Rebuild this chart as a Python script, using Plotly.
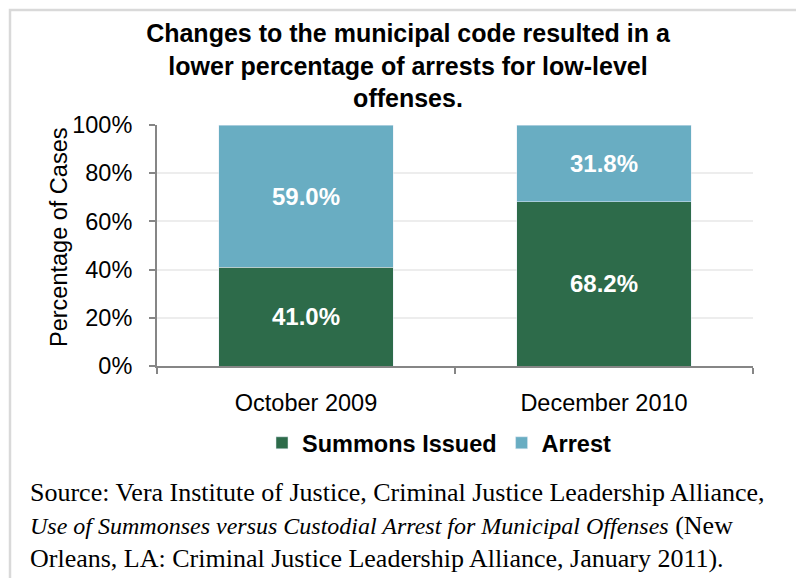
import plotly.graph_objects as go

categories = ["October 2009", "December 2010"]
summons = [41.0, 68.2]
arrest = [59.0, 31.8]
series_names = ["Summons Issued", "Arrest"]
y_ticks = [0, 20, 40, 60, 80, 100]
y_tick_labels = ["0%", "20%", "40%", "60%", "80%", "100%"]
y_title = "Percentage of Cases"

title_text = ("Changes to the municipal code resulted in a<br>"
              "lower percentage of arrests for low-level<br>offenses.")
source_lines = [
    "Source: Vera Institute of Justice, Criminal Justice Leadership Alliance,",
    "<span style='font-size:24px'><i>Use of Summonses versus Custodial Arrest for Municipal Offenses</i></span> (New",
    "Orleans, LA: Criminal Justice Leadership Alliance, January 2011).",
]

GREEN = "#2D6B4A"
BLUE = "#69ADC2"
OFF = 8  # page body margin
W, H = 804 - OFF, 578 - OFF
L, R, T, B = 149, 51, 117, 212
pw, ph = W - L - R, H - T - B

def fx(x):  # screenshot px -> paper x
    return (x - OFF - L) / pw

def fy(y):  # screenshot px -> paper y
    return (H - B - (y - OFF)) / ph

label_font = dict(family="Liberation Sans", size=24, color="white", weight="bold")

fig = go.Figure()
fig.add_trace(go.Bar(
    x=categories, y=summons, name=series_names[0], marker_color=GREEN,
    text=[f"{v:.1f}%" for v in summons], textposition="inside",
    insidetextanchor="middle", textfont=label_font,
))
fig.add_trace(go.Bar(
    x=categories, y=arrest, name=series_names[1], marker_color=BLUE,
    text=[f"{v:.1f}%" for v in arrest], textposition="inside",
    insidetextanchor="middle", textfont=label_font,
))

fig.update_layout(
    width=W, height=H, barmode="stack", bargap=0.415,
    margin=dict(l=L, r=R, t=T, b=B),
    paper_bgcolor="white", plot_bgcolor="white",
    font=dict(family="Liberation Sans", size=23.5, color="black"),
    uniformtext=dict(mode="show", minsize=10),
    title=dict(text=title_text, x=(408 - OFF) / W, xref="container", xanchor="center",
               y=1 - (42 - OFF) / H, yref="container", yanchor="top",
               font=dict(family="Liberation Sans", size=25, color="black", weight="bold")),
    legend=dict(orientation="h", x=fx(439), xanchor="center", y=fy(443), yanchor="middle",
                font=dict(family="Liberation Sans", size=23.5, color="black", weight="bold"),
                itemwidth=30, traceorder="normal", itemclick=False),
    xaxis=dict(showline=True, linecolor="#868686", linewidth=2, ticks="outside",
               tickson="boundaries", ticklen=6, tickcolor="#868686", tickwidth=2,
               tickfont=dict(size=23.5), showgrid=False, fixedrange=True,
               ticklabelstandoff=15),
    yaxis=dict(range=[0, 100], tickvals=y_ticks, ticktext=y_tick_labels,
               showline=True, linecolor="#868686", linewidth=2, ticks="outside",
               ticklen=6, tickcolor="#868686", tickwidth=2,
               gridcolor="#EDEDED", gridwidth=1.5, tickfont=dict(size=23.5),
               ticklabelstandoff=12,
               zeroline=False, fixedrange=True),
    shapes=[dict(type="rect", xref="paper", yref="paper",
                 x0=fx(10), x1=fx(798), y0=fy(600), y1=fy(10),
                 line=dict(color="#D9D9D9", width=2.5), fillcolor="rgba(0,0,0,0)",
                 layer="below")],
)

fig.add_annotation(text=y_title, xref="paper", yref="paper", x=fx(59), y=fy(237),
                   xanchor="center", yanchor="middle", textangle=-90, showarrow=False,
                   font=dict(family="Liberation Sans", size=23.5, color="black"))

for i, line in enumerate(source_lines):
    fig.add_annotation(text=line, xref="paper", yref="paper",
                       x=fx(28), y=fy(492 + 33 * i), xanchor="left", yanchor="middle",
                       showarrow=False,
                       font=dict(family="Liberation Serif", size=26, color="black"))

fig.write_html("out.html")
